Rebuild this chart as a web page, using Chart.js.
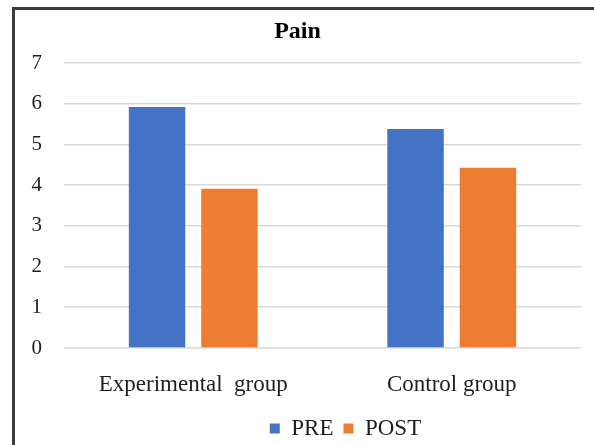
<!DOCTYPE html>
<html>
<head>
<meta charset="utf-8">
<script src="https://cdn.jsdelivr.net/npm/chart.js@4/dist/chart.umd.min.js"></script>
<style>
  html, body { margin: 0; padding: 0; background: #ffffff; }
  #wrap { position: relative; width: 594px; height: 445px; overflow: hidden; }
  #frame {
    position: absolute; left: 12px; top: 7px; width: 600px; height: 460px;
    border-left: 3px solid #3c3c3c; border-top: 3px solid #3c3c3c;
    box-sizing: border-box;
  }
  canvas { position: absolute; left: 0; top: 0; }
</style>
</head>
<body>
<div id="wrap">
  <div id="frame"></div>
  <canvas id="chart" width="594" height="445"></canvas>
</div>
<script>
// Mean pain scores before and after, per group
const groups = ["Experimental  group", "Control group"];
const preScores = [5.92, 5.38];
const postScores = [3.91, 4.43];
const yTicks = [0, 1, 2, 3, 4, 5, 6, 7];

const serif = "'Liberation Serif', 'Times New Roman', serif";
const textColor = "#1e1e1e";

// The legend sits a little right of the centre, under the wider frame
const legendShift = {
  id: "legendShift",
  afterLayout(chart) {
    const lg = chart.legend;
    if (lg) { lg.left += 48; lg.right += 48; }
  }
};

new Chart(document.getElementById("chart"), {
  type: "bar",
  data: {
    labels: groups,
    datasets: [
      { label: "PRE", data: preScores, backgroundColor: "#4472C4", borderWidth: 0 },
      { label: "POST", data: postScores, backgroundColor: "#ED7D31", borderWidth: 0 }
    ]
  },
  plugins: [legendShift],
  options: {
    responsive: false,
    animation: false,
    categoryPercentage: 0.56,
    barPercentage: 0.78,
    layout: { padding: { left: 14, right: 13, top: 10, bottom: -5 } },
    plugins: {
      title: {
        display: true,
        text: "Pain",
        color: "#000000",
        font: { family: serif, size: 24, weight: "bold" },
        padding: { top: 7.6, bottom: 16.6 }
      },
      legend: {
        position: "bottom",
        labels: {
          color: textColor,
          font: { family: serif, size: 23 },
          boxWidth: 10,
          boxHeight: 10,
          padding: 10
        }
      },
      tooltip: { enabled: false }
    },
    scales: {
      x: {
        grid: { display: false, drawTicks: false },
        border: { display: false },
        ticks: { color: textColor, font: { family: serif, size: 23 }, padding: 23, maxRotation: 0 },
        afterFit: s => { s.height = 59; }
      },
      y: {
        min: yTicks[0],
        max: yTicks[yTicks.length - 1],
        afterBuildTicks: s => { s.ticks = yTicks.map(v => ({ value: v })); },
        grid: { color: "#d9d9d9", lineWidth: 1.6, drawTicks: false },
        border: { display: false },
        ticks: { color: textColor, font: { family: serif, size: 21 }, padding: 22 },
        afterFit: s => { s.width = 50; }
      }
    }
  }
});
</script>
</body>
</html>
